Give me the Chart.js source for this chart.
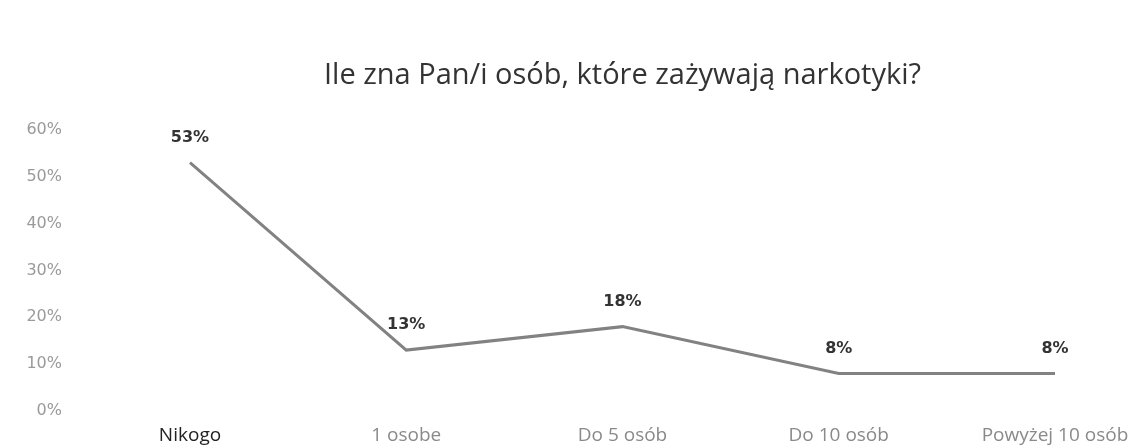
<!DOCTYPE html>
<html>
<head>
<meta charset="utf-8">
<script src="https://cdn.jsdelivr.net/npm/chart.js@4"></script>
<style>
  html, body { margin: 0; padding: 0; background: #fff; overflow: hidden; }
  canvas { display: block; }
</style>
</head>
<body>
<canvas id="chart" width="1131" height="448"></canvas>
<script>
const categories = ['Nikogo', '1 osobe', 'Do 5 osób', 'Do 10 osób', 'Powyżej 10 osób'];
const shares = [53, 13, 18, 8, 8];
const yTicks = [0, 10, 20, 30, 40, 50, 60];

// labels "53%" etc drawn above each point
const pointLabels = {
  id: 'pointLabels',
  afterDatasetsDraw(chart) {
    const ctx = chart.ctx;
    const meta = chart.getDatasetMeta(0);
    ctx.save();
    ctx.font = 'bold 16px "DejaVu Sans"';
    ctx.fillStyle = '#333333';
    ctx.textAlign = 'center';
    ctx.textBaseline = 'middle';
    meta.data.forEach((pt, i) => {
      ctx.fillText(shares[i] + '%', pt.x, pt.y - 25);
    });
    ctx.restore();
  }
};

new Chart(document.getElementById('chart'), {
  type: 'line',
  data: {
    labels: categories,
    datasets: [{
      data: shares,
      borderColor: '#828282',
      borderWidth: 3,
      pointRadius: 0,
      tension: 0,
      fill: false
    }]
  },
  options: {
    responsive: false,
    animation: false,
    devicePixelRatio: 1,
    layout: { padding: { left: 26, right: 76, top: 0, bottom: 0 } },
    plugins: {
      legend: { display: false },
      tooltip: { enabled: false },
      title: {
        display: true,
        text: 'Ile zna Pan/i osób, które zażywają narkotyki?',
        fullSize: false,
        color: '#333333',
        font: { family: '"Open Sans"', size: 29, weight: 'normal' },
        padding: { top: 58, bottom: 37 }
      }
    },
    scales: {
      x: {
        offset: false,
        grid: { display: false, drawTicks: false },
        border: { display: false },
        afterFit: (axis) => {
          axis.height = 37;
          // last label may overhang the plot, that's fine
          axis.paddingLeft = 0;
          axis.paddingRight = 0;
        },
        ticks: {
          color: (c) => c.index === 0 ? '#222222' : '#8a8a8a',
          font: { family: '"Open Sans"', size: 19 },
          padding: 13,
          maxRotation: 0
        }
      },
      y: {
        min: 0,
        max: 60,
        afterBuildTicks: (axis) => { axis.ticks = yTicks.map((v) => ({ value: v })); },
        afterFit: (axis) => {
          // big tick padding pushes labels left; don't let it eat vertical space
          axis.width = 164;
          axis.paddingTop = 8;
          axis.paddingBottom = 8;
        },
        grid: { display: false, drawTicks: false },
        border: { display: false },
        ticks: {
          color: '#9a9a9a',
          font: { family: '"DejaVu Sans"', size: 16 },
          padding: 128,
          callback: (v) => v + '%'
        }
      }
    }
  },
  plugins: [pointLabels]
});
</script>
</body>
</html>
